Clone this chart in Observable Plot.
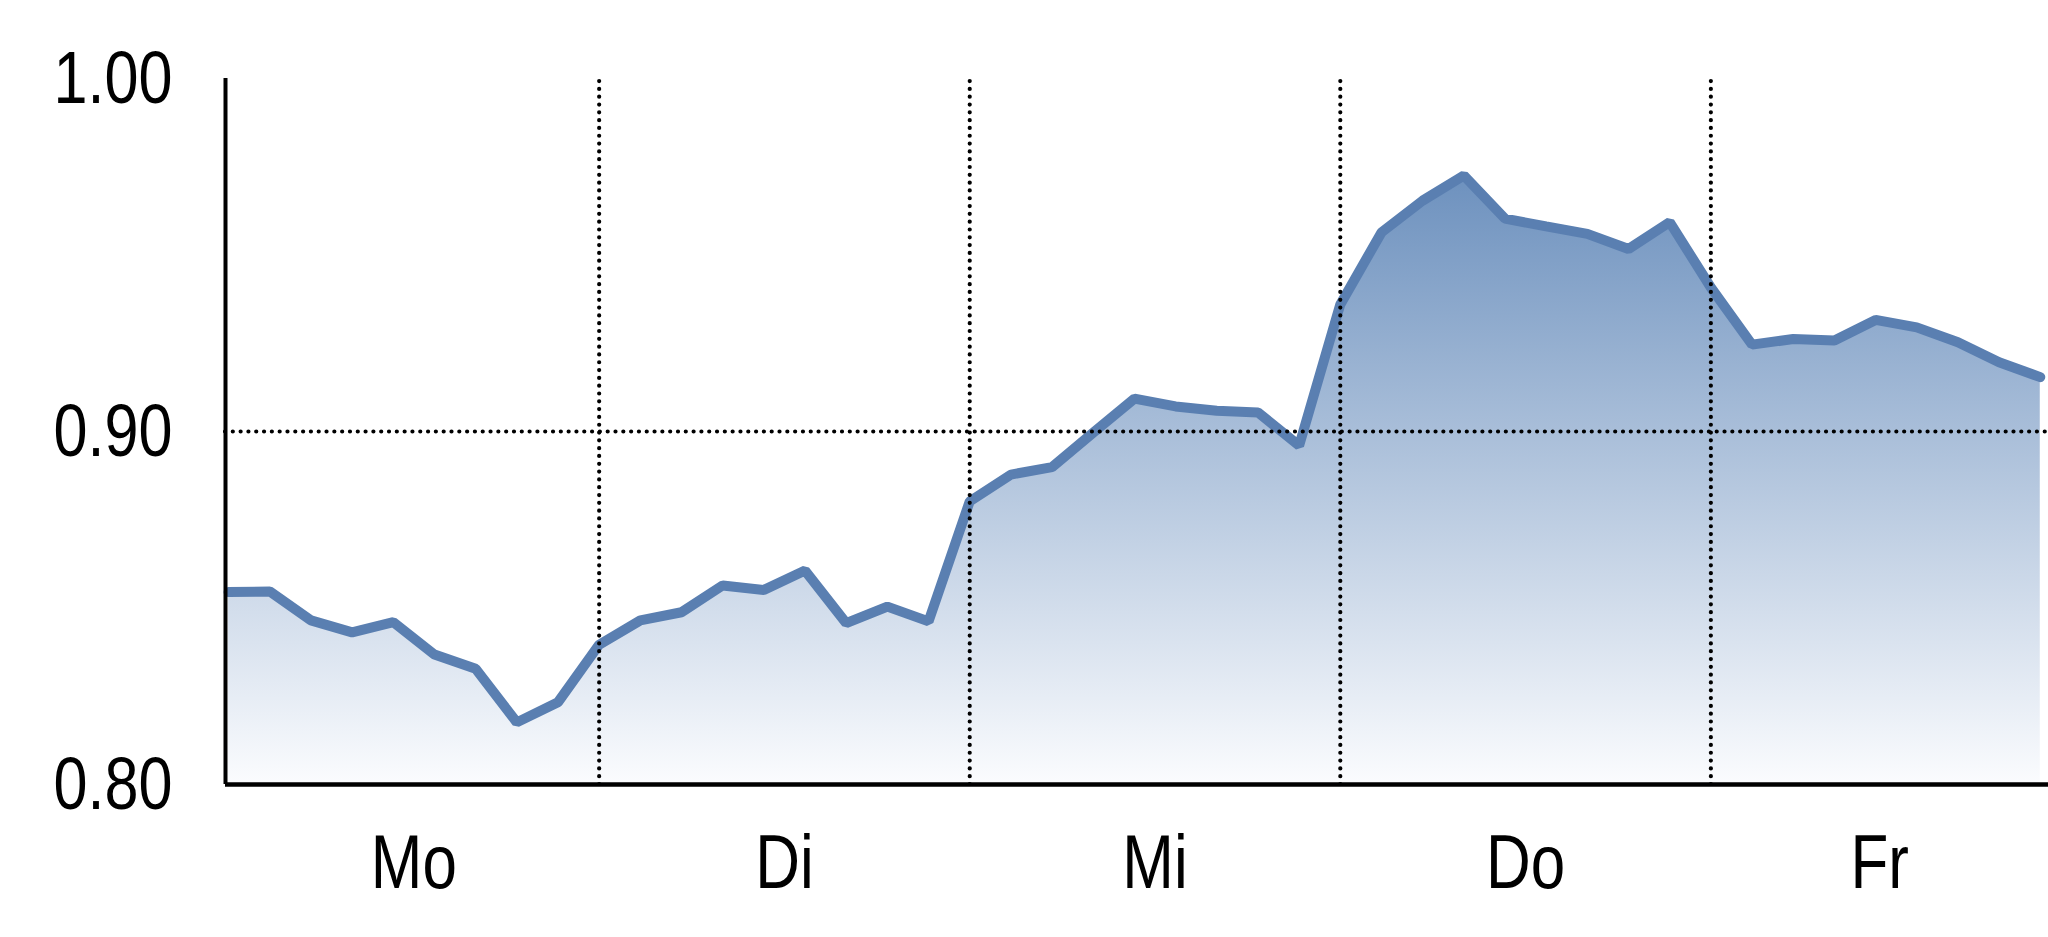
<!DOCTYPE html>
<html>
<head>
<meta charset="utf-8">
<script src="https://cdn.jsdelivr.net/npm/d3@7"></script>
<script src="https://cdn.jsdelivr.net/npm/@observablehq/plot@0.6"></script>
<style>
  html, body { margin: 0; padding: 0; background: #ffffff; }
  #chart svg { display: block; }
</style>
</head>
<body>
<div id="chart"></div>
<script>
// ---- data ----
const days = ["Mo", "Di", "Mi", "Do", "Fr"];
const pointsPerDay = 9;
const values = [
  0.8545, 0.8547, 0.8465, 0.8431, 0.8460, 0.8368, 0.8328, 0.8176, 0.8233,
  0.8396, 0.8465, 0.8488, 0.8564, 0.8551, 0.8606, 0.8457, 0.8504, 0.8462,
  0.8802, 0.8878, 0.8899, 0.8997, 0.9093, 0.9071, 0.9059, 0.9054, 0.8960,
  0.9360, 0.9564, 0.9654, 0.9725, 0.9603, 0.9581, 0.9560, 0.9517, 0.9593,
  0.9408, 0.9246, 0.9262, 0.9258, 0.9316, 0.9295, 0.9253, 0.9196, 0.9154
];
const yTicks = [0.80, 0.90, 1.00];
const yGrid = [0.90];

// ---- derived tables ----
const data = values.map((v, i) => ({ i, v }));
const xDomain = [-0.075, 44.2];
const yDomain = [0.80, 1.00];
const dividers = days.slice(1).map((_, k) => (k + 1) * pointsPerDay);
const dayLabels = days.map((d, k) => {
  const a = Math.max(k * pointsPerDay, xDomain[0]);
  const b = Math.min((k + 1) * pointsPerDay, xDomain[1]);
  return { day: d, x: (a + b) / 2 };
});

const FONT = "'Liberation Sans', Arial, sans-serif";
const NARROW = 0.815; // emulate a narrow face
const dotted = { stroke: "#000", strokeWidth: 4.2, strokeLinecap: "round", strokeDasharray: "0.01,7.8" };

const gradient = () => {
  const defs = document.createElementNS("http://www.w3.org/2000/svg", "defs");
  defs.innerHTML = `<linearGradient id="areaGrad" x1="0" y1="0" x2="0" y2="1">
      <stop offset="0" stop-color="#6d91be"/>
      <stop offset="1" stop-color="#fbfcfe"/>
    </linearGradient>`;
  return defs;
};

const chart = Plot.plot({
  width: 2048,
  height: 937,
  marginLeft: 225,
  marginRight: 0,
  marginTop: 78,
  marginBottom: 153,
  style: { fontFamily: FONT, background: "#ffffff", color: "#000" },
  x: { domain: xDomain, axis: null },
  y: { domain: yDomain, axis: null },
  marks: [
    gradient,
    Plot.areaY(data, { x: "i", y1: yDomain[0], y2: "v", fill: "url(#areaGrad)" }),
    Plot.line(data, { x: "i", y: "v", stroke: "#5a7fb1", strokeWidth: 10, strokeLinejoin: "miter", strokeLinecap: "round" }),
    Plot.ruleY(yGrid, { ...dotted }),
    Plot.ruleX(dividers, { y1: yDomain[0], y2: yDomain[1], ...dotted }),
    Plot.ruleX([xDomain[0]], { y1: yDomain[0], y2: yDomain[1], stroke: "#000", strokeWidth: 4 }),
    Plot.ruleY([yDomain[0]], { stroke: "#000", strokeWidth: 4.5 }),
    Plot.axisY({ ticks: yTicks, tickFormat: d => d.toFixed(2), tickSize: 0, tickPadding: 53, fontSize: 75, fill: "#000", label: null }),
    Plot.text(dayLabels, { x: "x", y: () => yDomain[0], text: "day", dy: 79, fontSize: 76, fill: "#000" })
  ]
});

// condense all text horizontally around its anchor (narrow typeface look)
chart.querySelectorAll("text").forEach(t => {
  const tr = t.getAttribute("transform") || "";
  t.setAttribute("transform", `${tr} scale(${NARROW},1)`.trim());
  const x = t.getAttribute("x");
  if (x != null && !isNaN(+x) && +x !== 0) t.setAttribute("x", +x / NARROW);
});

document.getElementById("chart").appendChild(chart);
</script>
</body>
</html>
